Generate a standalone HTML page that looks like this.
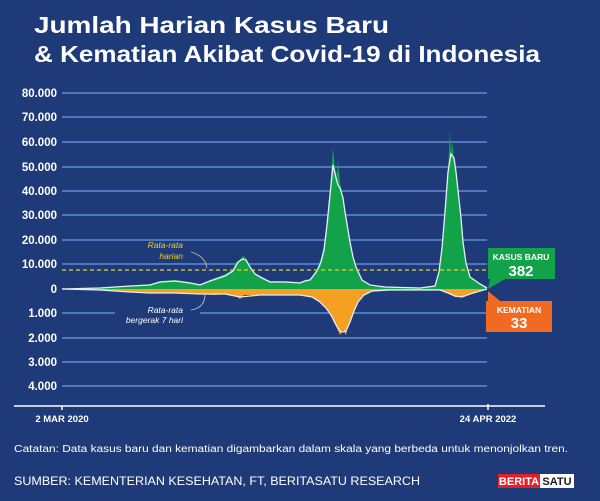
<!DOCTYPE html>
<html><head><meta charset="utf-8"><style>
html,body{margin:0;padding:0;background:#1f3a78;}
svg{display:block;font-family:"Liberation Sans",sans-serif;}
</style></head><body>
<svg width="600" height="501" viewBox="0 0 600 501">
<rect width="600" height="501" fill="#1f3a78"/>
<g font-weight="bold" fill="#fff" font-size="23">
<text x="34" y="33" textLength="355" lengthAdjust="spacingAndGlyphs">Jumlah Harian Kasus Baru</text>
<text x="34" y="62" textLength="506" lengthAdjust="spacingAndGlyphs">&amp; Kematian Akibat Covid-19 di Indonesia</text>
</g>
<g stroke="#4f78bc" stroke-width="2">
<line x1="62" x2="487" y1="93" y2="93"/><line x1="62" x2="487" y1="117" y2="117"/>
<line x1="62" x2="487" y1="142" y2="142"/><line x1="62" x2="487" y1="167" y2="167"/>
<line x1="62" x2="487" y1="191" y2="191"/><line x1="62" x2="487" y1="215" y2="215"/>
<line x1="62" x2="487" y1="240" y2="240"/><line x1="62" x2="487" y1="264" y2="264"/>
<line x1="62" x2="115" y1="313" y2="313"/><line x1="200" x2="487" y1="313" y2="313"/>
<line x1="62" x2="487" y1="338" y2="338"/><line x1="62" x2="487" y1="362" y2="362"/>
<line x1="62" x2="487" y1="386" y2="386"/>
</g>
<g fill="#fff" font-weight="bold" font-size="11.5" text-anchor="end">
<text x="57" y="97">80.000</text><text x="57" y="121">70.000</text><text x="57" y="146">60.000</text>
<text x="57" y="171">50.000</text><text x="57" y="195">40.000</text><text x="57" y="219">30.000</text>
<text x="57" y="244">20.000</text><text x="57" y="268">10.000</text><text x="57" y="293">0</text>
<text x="57" y="317">1.000</text><text x="57" y="342">2.000</text><text x="57" y="366">3.000</text>
<text x="57" y="390">4.000</text>
</g>
<!-- cases -->
<polygon fill="#12a24a" points="62,289 100,288 130,286 150,284 160,281 175,280 190,282 200,284 210,280 225,274 233,269 236,262 238,263 240,259 243,256 246,258 250,266 255,273 262,277 270,281 285,281 300,282 305,280 310,279 317,269 321,258 324,245 327,220 330,190 332,160 333,148 335,168 337,175 338,160 340,183 343,195 345,210 348,228 350,240 353,255 356,266 362,280 370,286 385,287 420,288 435,286 439,270 442,245 445,210 448,170 449,150 450,130 451,155 452,140 454,158 456,172 458,188 461,215 463,240 466,262 470,276 480,284 487,288 487,289"/>
<polyline fill="none" stroke="#e8eef8" stroke-width="1.3" points="62,289 100,288 130,286 150,285 160,282 175,281 190,283 200,285 210,281 225,276 233,271 238,262 243,259 246,260 250,267 255,274 262,278 270,282 285,282 300,283 305,281 310,280 317,271 321,262 324,250 327,225 330,195 333,165 336,178 338,185 340,188 343,198 345,212 348,230 350,242 353,257 356,267 362,280 370,285 385,287 420,288 435,286 439,272 442,248 445,212 448,172 451,154 454,158 456,172 458,190 461,218 463,242 466,263 470,277 480,284 487,288"/>
<!-- deaths -->
<polygon fill="#f5a023" points="62,289 100,290 130,292 150,293 175,293 200,294 215,295 225,294 236,296 240,299 244,295 260,295 280,295 300,295 312,297 320,302 326,308 330,312 334,322 337,328 340,335 343,330 346,335 348,326 352,316 356,305 362,296 370,292 390,290 440,290 448,293 455,297 462,297 470,294 480,291 487,289"/>
<polyline fill="none" stroke="#e8eef8" stroke-width="1.3" points="62,289 100,290 130,292 150,293 175,293 200,294 225,294 240,297 260,295 300,295 312,297 320,302 326,308 331,315 335,323 339,330 342,332 346,331 350,322 354,311 358,302 364,295 372,291 390,290 440,290 448,293 455,296 462,297 470,294 480,291 487,289"/>
<line x1="62" x2="487" y1="270" y2="270" stroke="#f0d020" stroke-width="1.3" stroke-dasharray="4,3"/>
<!-- annotations -->
<text x="183" y="248" fill="#f0d020" font-size="8.5" font-style="italic" text-anchor="end">Rata-rata</text>
<text x="183" y="259" fill="#f0d020" font-size="8.5" font-style="italic" text-anchor="end">harian</text>
<path d="M207,268 Q205,256 191,252" fill="none" stroke="#c8c8a0" stroke-width="0.8"/>
<text x="183" y="313" fill="#fff" font-size="8.5" font-style="italic" text-anchor="end">Rata-rata</text>
<text x="183" y="323" fill="#fff" font-size="8.5" font-style="italic" text-anchor="end">bergerak 7 hari</text>
<path d="M205,294 Q205,308 191,310" fill="none" stroke="#c8c8d8" stroke-width="0.8"/>
<!-- callouts -->
<rect x="488" y="248" width="67" height="31" fill="#12a24a"/>
<polygon points="490,279 505,279 488,289" fill="#12a24a"/>
<text x="521" y="260" fill="#fff" font-weight="bold" font-size="8.5" text-anchor="middle">KASUS BARU</text>
<text x="521" y="276" fill="#fff" font-weight="bold" font-size="15" text-anchor="middle">382</text>
<rect x="486" y="301" width="66" height="31" fill="#f26a22"/>
<polygon points="488,301 500,301 488,291" fill="#f26a22"/>
<text x="519" y="313" fill="#fff" font-weight="bold" font-size="8.5" text-anchor="middle">KEMATIAN</text>
<text x="519" y="328" fill="#fff" font-weight="bold" font-size="15" text-anchor="middle">33</text>
<!-- axis -->
<line x1="14" x2="545" y1="406" y2="406" stroke="#fff" stroke-width="1.5"/>
<line x1="62" x2="62" y1="406" y2="410" stroke="#fff" stroke-width="1.5"/>
<line x1="488" x2="488" y1="404" y2="410" stroke="#fff" stroke-width="1.5"/>
<text x="62" y="422" fill="#fff" font-weight="bold" font-size="9.5" text-anchor="middle">2 MAR 2020</text>
<text x="488" y="422" fill="#fff" font-weight="bold" font-size="9.5" text-anchor="middle">24 APR 2022</text>
<text x="14" y="452" fill="#fff" font-size="10" textLength="554" lengthAdjust="spacingAndGlyphs">Catatan: Data kasus baru dan kematian digambarkan dalam skala yang berbeda untuk menonjolkan tren.</text>
<text x="14" y="485" fill="#fff" font-size="12" textLength="406" lengthAdjust="spacingAndGlyphs">SUMBER: KEMENTERIAN KESEHATAN, FT, BERITASATU RESEARCH</text>
<rect x="498" y="474" width="42" height="14" fill="#e4202a"/>
<rect x="540" y="474" width="34" height="14" fill="#fff"/>
<text x="519" y="485" fill="#fff" font-weight="bold" font-size="11" text-anchor="middle">BERITA</text>
<text x="557" y="485" fill="#1a1a1a" font-weight="bold" font-size="11" text-anchor="middle">SATU</text>
</svg>
</body></html>
